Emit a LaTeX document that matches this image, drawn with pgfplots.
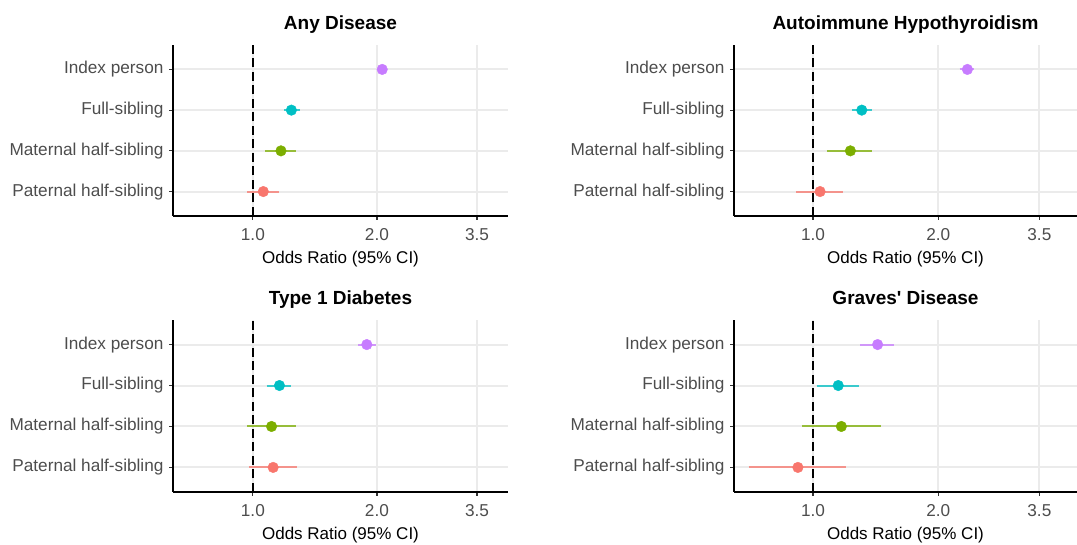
\documentclass[border=0pt]{standalone}
\usepackage{fontspec}
\setmainfont{Liberation Sans}[Ligatures=TeXOff]
\usepackage{pgfplots}
\pgfplotsset{compat=1.18}
\definecolor{cIdx}{HTML}{C77CFF}
\definecolor{cFull}{HTML}{00BFC4}
\definecolor{cMat}{HTML}{7CAE00}
\definecolor{cPat}{HTML}{F8766D}
\definecolor{gridc}{HTML}{EBEBEB}
\definecolor{tickc}{HTML}{333333}
\definecolor{labc}{HTML}{4D4D4D}
\newcommand{\ci}[5]{%
  \addplot[#1, opacity=0.75, line width=2pt, forget plot] coordinates {(#3,#2) (#4,#2)};
  \addplot[#1, only marks, mark=*, mark size=5.3pt, forget plot] coordinates {(#5,#2)};
}
\pgfplotsset{fpanel/.style={
  scale only axis, height=171pt,
  ymin=0.4, ymax=4.6,
  xtick={1,2,3.5}, xticklabels={1.0,2.0,3.5},
  ytick={1,2,3,4},
  yticklabels={Paternal half-sibling, Maternal half-sibling, Full-sibling, Index person},
  grid=major, major grid style={color=gridc, line width=2pt},
  axis x line*=bottom, axis y line*=left,
  axis line style={-, black, line width=1.6pt},
  tick align=outside, major tick length=4pt,
  tick style={color=tickc, line width=1.2pt},
  ticklabel style={font=\fontsize{17.2}{20}\selectfont, text=labc},
  yticklabel style={xshift=-2pt},
  xticklabel style={yshift=-5pt},
  xlabel={Odds Ratio (95\% CI)},
  xlabel style={at={(axis description cs:0.5,0)}, anchor=base, yshift=-48pt, font=\fontsize{17}{20}\selectfont, text=black},
  title style={at={(axis description cs:0.5,1)}, anchor=base, yshift=9pt, font=\bfseries\fontsize{19}{22}\selectfont},
  clip=false,
}}
\newcommand{\refline}{\addplot[black, line width=1.8pt, dash pattern=on 9pt off 4.5pt, forget plot] coordinates {(1,0.4) (1,4.6)};}
\begin{document}
\begin{tikzpicture}[x=1pt,y=1pt]
\useasboundingbox (0,0) rectangle (1077,545);
% Top-left
\begin{axis}[xmode=log, fpanel, at={(173pt,329pt)}, anchor=south west, width=335pt, xmin=0.64, xmax=4.16, title={Any Disease}]
  \refline
  \ci{cIdx}{4}{2.02}{2.10}{2.06}
  \ci{cFull}{3}{1.19}{1.30}{1.24}
  \ci{cMat}{2}{1.07}{1.27}{1.17}
  \ci{cPat}{1}{0.97}{1.16}{1.06}
\end{axis}
% Top-right
\begin{axis}[xmode=log, fpanel, at={(734pt,329pt)}, anchor=south west, width=343pt, xmin=0.646, xmax=4.31, title={Autoimmune Hypothyroidism}]
  \refline
  \ci{cIdx}{4}{2.25}{2.44}{2.35}
  \ci{cFull}{3}{1.24}{1.39}{1.31}
  \ci{cMat}{2}{1.08}{1.39}{1.23}
  \ci{cPat}{1}{0.91}{1.18}{1.04}
\end{axis}
% Bottom-left
\begin{axis}[xmode=log, fpanel, at={(173pt,53pt)}, anchor=south west, width=335pt, height=172pt, xmin=0.64, xmax=4.16, title={Type 1 Diabetes}]
  \refline
  \ci{cIdx}{4}{1.80}{1.99}{1.89}
  \ci{cFull}{3}{1.08}{1.24}{1.16}
  \ci{cMat}{2}{0.97}{1.27}{1.11}
  \ci{cPat}{1}{0.98}{1.28}{1.12}
\end{axis}
% Bottom-right
\begin{axis}[xmode=log, fpanel, at={(734pt,53pt)}, anchor=south west, width=343pt, height=172pt, xmin=0.646, xmax=4.31, title={Graves' Disease}]
  \refline
  \ci{cIdx}{4}{1.30}{1.57}{1.43}
  \ci{cFull}{3}{1.02}{1.29}{1.15}
  \ci{cMat}{2}{0.94}{1.46}{1.17}
  \ci{cPat}{1}{0.70}{1.20}{0.92}
\end{axis}
\end{tikzpicture}
\end{document}
